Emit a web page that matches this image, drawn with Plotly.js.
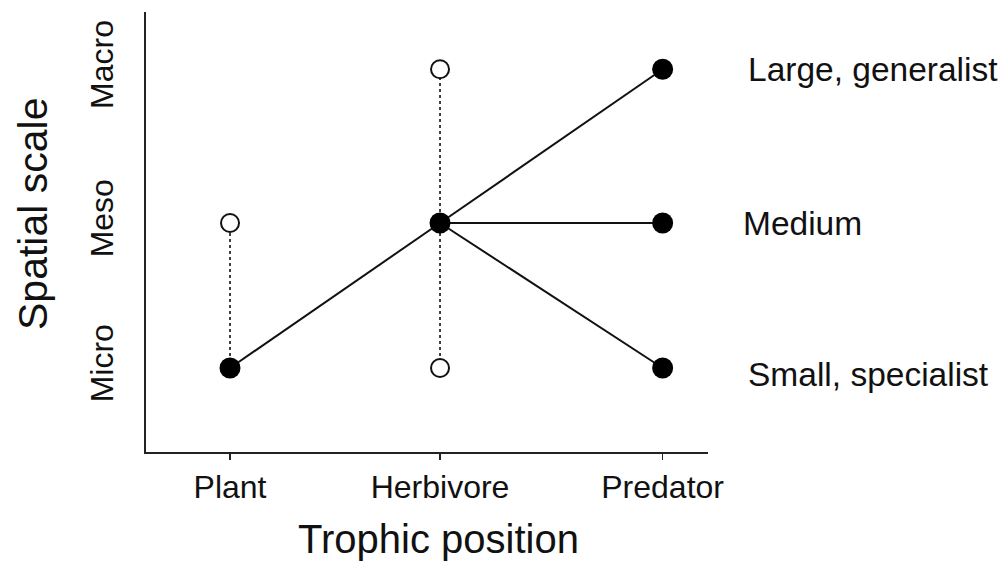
<!DOCTYPE html>
<html>
<head>
<meta charset="utf-8">
<script src="https://cdn.plot.ly/plotly-3.0.1.min.js"></script>
<style>html,body{margin:0;padding:0;background:#fff;}#chart{width:1002px;height:563px;}</style>
</head>
<body>
<div id="chart"></div>
<script>
// Categories and positions
const trophic = ['Plant', 'Herbivore', 'Predator'];
const trophicPos = [1, 2, 3.06];
const scales = ['Micro', 'Meso', 'Macro'];
const scalePos = [1, 2, 3.06];

// Filled (realized) nodes
const filledTrophic = ['Plant', 'Herbivore', 'Predator', 'Predator', 'Predator'];
const filledScale = ['Micro', 'Meso', 'Macro', 'Meso', 'Micro'];

// Open (potential) nodes
const openTrophic = ['Plant', 'Herbivore', 'Herbivore'];
const openScale = ['Meso', 'Macro', 'Micro'];

// Solid links
const solidFromT = ['Plant', 'Herbivore', 'Herbivore', 'Herbivore'];
const solidFromS = ['Micro', 'Meso', 'Meso', 'Meso'];
const solidToT = ['Herbivore', 'Predator', 'Predator', 'Predator'];
const solidToS = ['Meso', 'Macro', 'Meso', 'Micro'];

// Dotted links (vertical ranges)
const dotT = ['Plant', 'Herbivore'];
const dotFromS = ['Micro', 'Micro'];
const dotToS = ['Meso', 'Macro'];

// Predator labels
const predLabels = ['Large, generalist', 'Medium', 'Small, specialist'];
const predLabelScale = ['Macro', 'Meso', 'Micro'];

const xTitle = 'Trophic position';
const yTitle = 'Spatial scale';

const tx = t => trophicPos[trophic.indexOf(t)];
const sy = s => scalePos[scales.indexOf(s)];

const FONT = 'Liberation Sans, Arial, sans-serif';

function linkTrace(fT, fS, tT, tS, dash, width) {
  const x = [], y = [];
  for (let i = 0; i < fT.length; i++) {
    x.push(tx(fT[i]), tx(tT[i]), null);
    y.push(sy(fS[i]), sy(tS[i]), null);
  }
  return {x, y, mode: 'lines', type: 'scatter', hoverinfo: 'skip',
    line: {color: '#111', width: width, dash: dash}, showlegend: false};
}

const traces = [
  linkTrace(dotT, dotFromS, dotT, dotToS, 'dot', 1.6),
  linkTrace(solidFromT, solidFromS, solidToT, solidToS, 'solid', 2),
  {x: openTrophic.map(tx), y: openScale.map(sy), mode: 'markers', type: 'scatter',
   marker: {symbol: 'circle', size: 18, color: '#fff', line: {color: '#111', width: 2}},
   showlegend: false, hoverinfo: 'skip'},
  {x: filledTrophic.map(tx), y: filledScale.map(sy), mode: 'markers', type: 'scatter',
   marker: {symbol: 'circle', size: 21, color: '#000', line: {color: '#000', width: 0}},
   showlegend: false, hoverinfo: 'skip'}
];

const annotations = predLabels.map((t, i) => ({
  text: t, xref: 'paper', x: 1.068, xanchor: 'left',
  xshift: predLabelScale[i] === 'Meso' ? -5 : 0,
  yref: 'y', y: sy(predLabelScale[i]), yanchor: 'middle',
  yshift: predLabelScale[i] === 'Micro' ? -6 : 0,
  showarrow: false, font: {family: FONT, size: 33.5, color: '#111'}
}));
annotations.push({
  text: yTitle, textangle: -90, xref: 'paper', x: -0.2, xanchor: 'center',
  yref: 'paper', y: 0.54, yanchor: 'middle', showarrow: false,
  font: {family: FONT, size: 41, color: '#111'}
});
annotations.push({
  text: xTitle, xref: 'paper', x: 0.5196, xanchor: 'center',
  yref: 'paper', y: -0.197, yanchor: 'middle', showarrow: false,
  font: {family: FONT, size: 40, color: '#111'}
});

const layout = {
  width: 1002, height: 563,
  margin: {l: 146, r: 294, t: 12, b: 111, pad: 0},
  paper_bgcolor: '#fff', plot_bgcolor: '#fff',
  font: {family: FONT, color: '#111'},
  xaxis: {
    range: [0.6, 3.276], tickvals: trophicPos, ticktext: trophic,
    showgrid: false, zeroline: false, showline: true, linecolor: '#222', linewidth: 2,
    ticks: 'outside', ticklen: 6, tickwidth: 1.5, tickcolor: '#222',
    tickfont: {family: FONT, size: 32, color: '#111'},
    fixedrange: true
  },
  yaxis: {
    range: [0.421, 3.455], tickvals: scalePos, ticktext: scales, tickangle: -90,
    showgrid: false, zeroline: false, showline: true, linecolor: '#222', linewidth: 2,
    ticks: '', tickfont: {family: FONT, size: 32, color: '#111'},
    ticklabelstandoff: 18,
    fixedrange: true
  },
  annotations: annotations
};

Plotly.newPlot('chart', traces, layout, {staticPlot: true, displayModeBar: false});
</script>
</body>
</html>
